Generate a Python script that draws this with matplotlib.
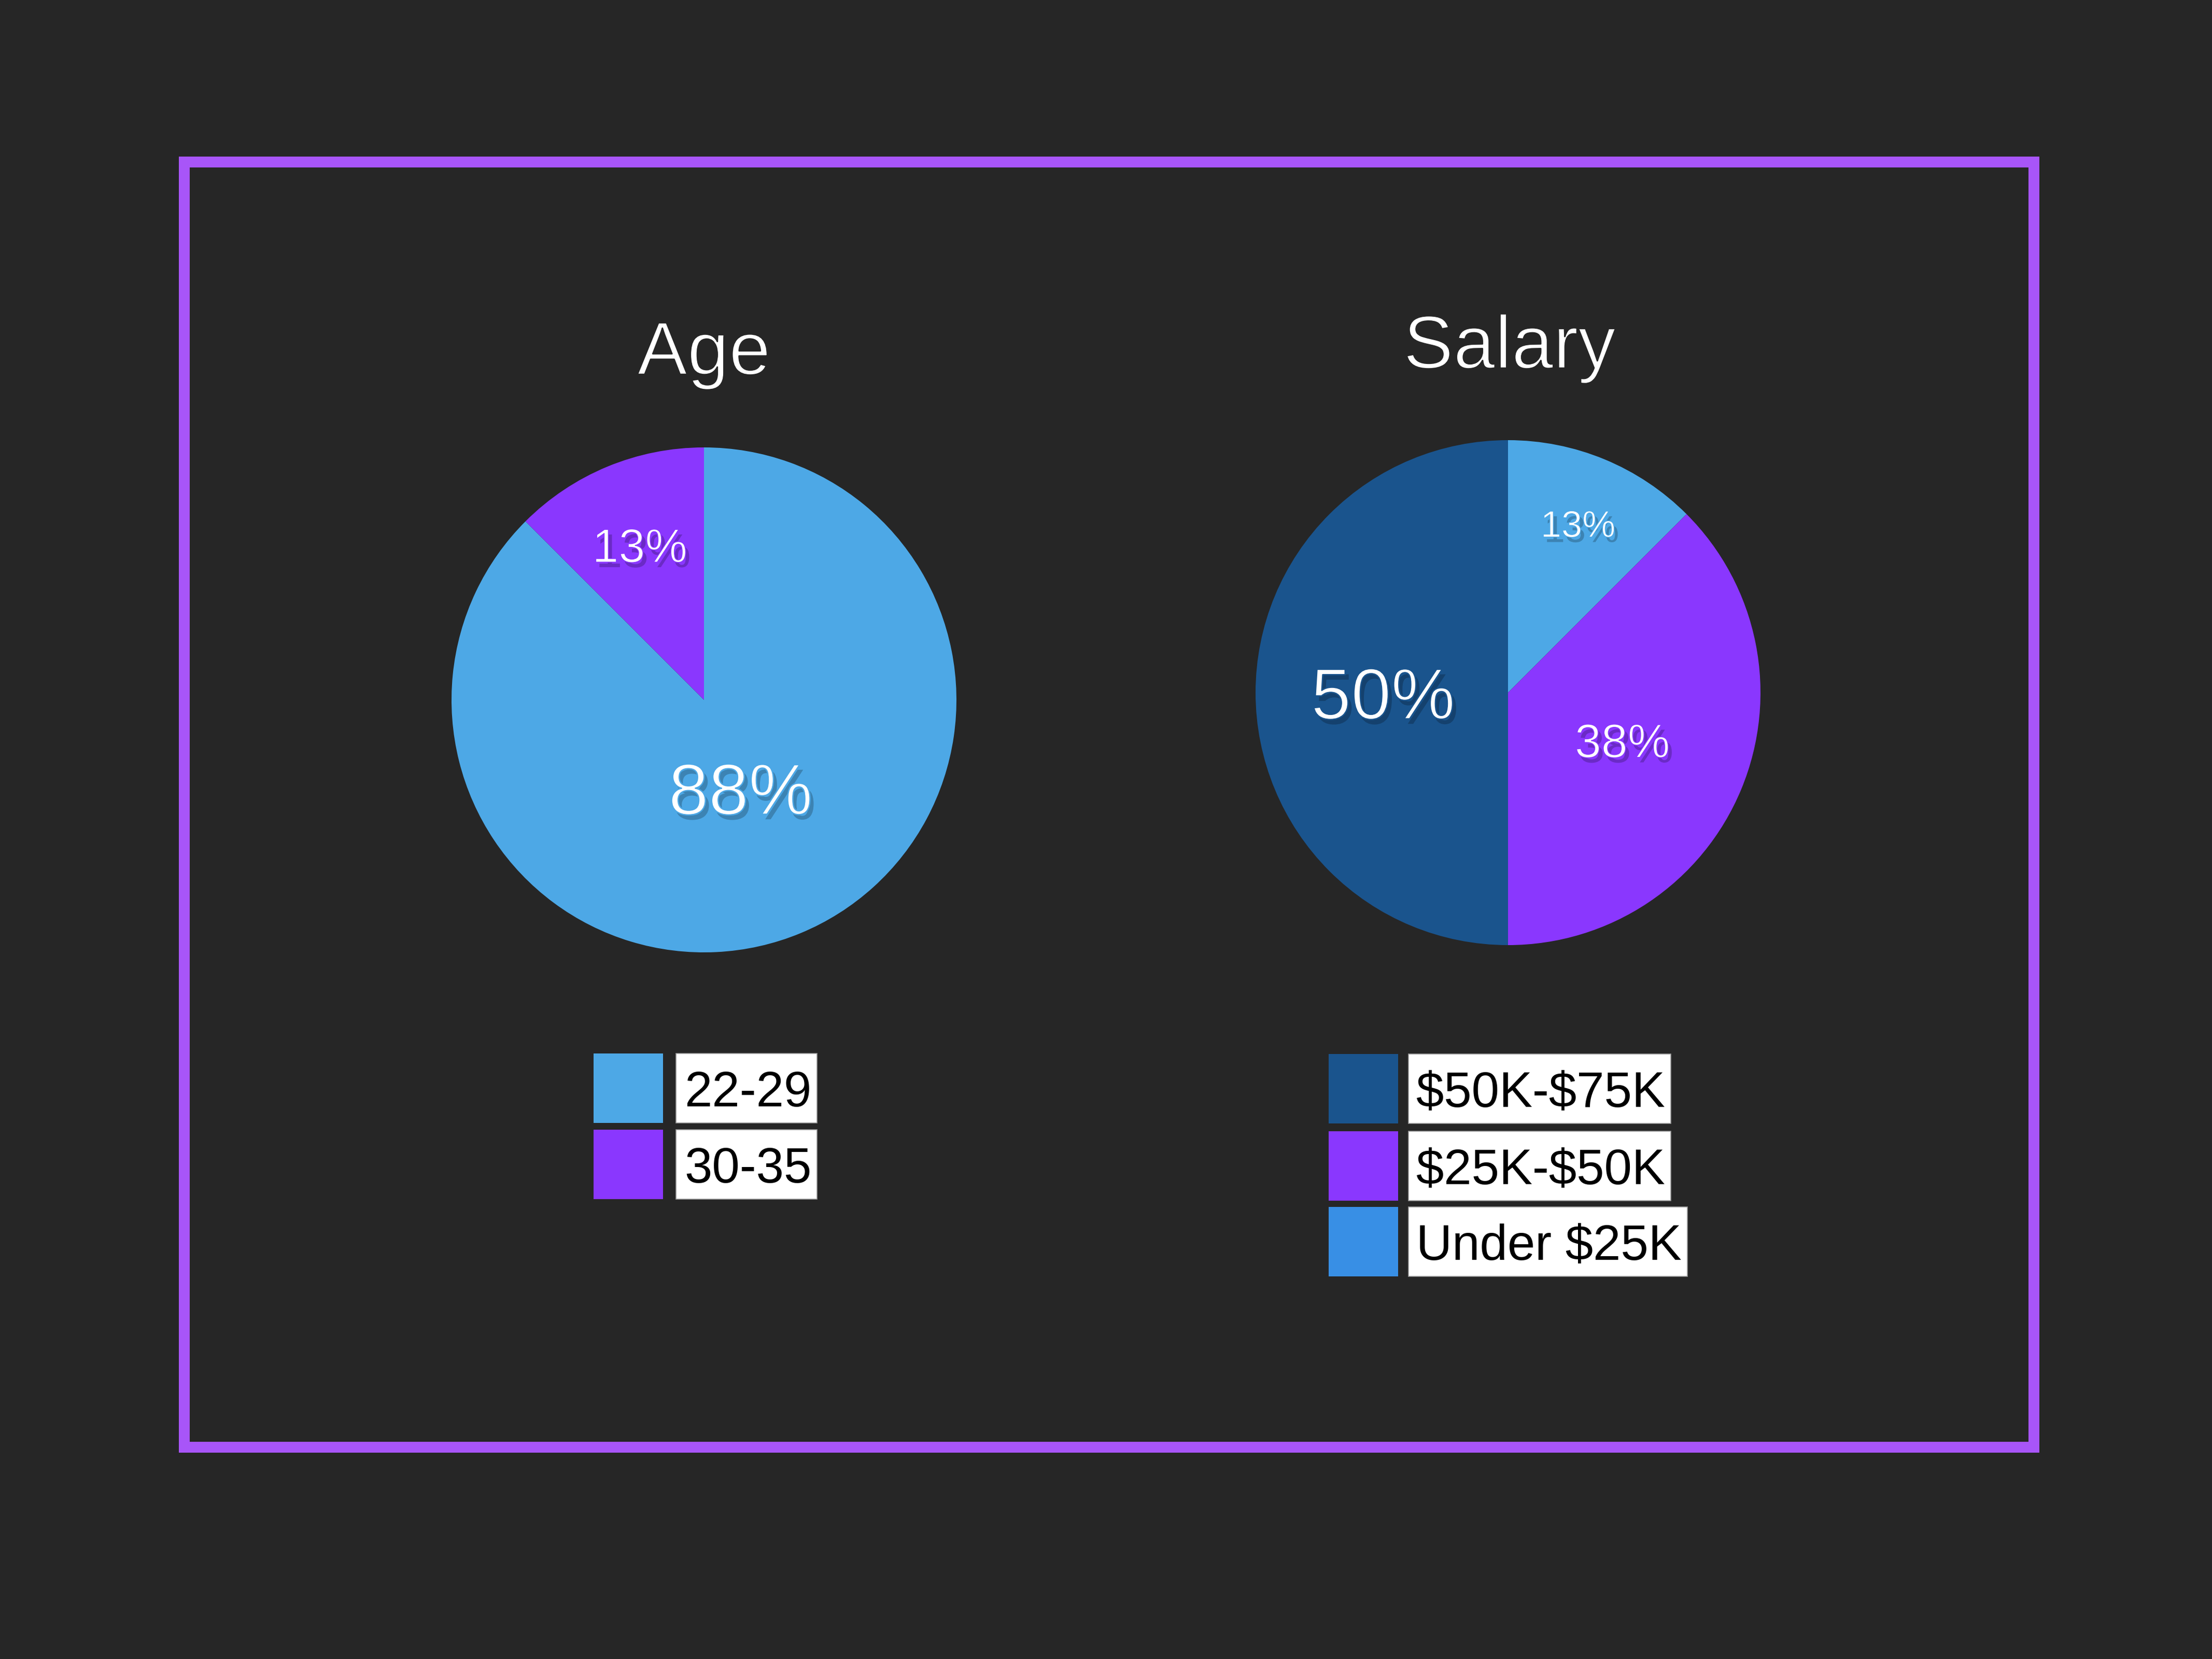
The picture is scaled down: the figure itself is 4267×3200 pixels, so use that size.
import math
import matplotlib
matplotlib.use("Agg")
import matplotlib.pyplot as plt
import matplotlib.patheffects as pe
from matplotlib.patches import Rectangle

plt.rcParams["text.parse_math"] = False

# ---------------- data ----------------
age_title = "Age"
age_labels = ["22-29", "30-35"]
age_values = [87.5, 12.5]

salary_title = "Salary"
salary_labels = ["Under $25K", "$25K-$50K", "$50K-$75K"]
salary_values = [12.5, 37.5, 50.0]
salary_legend_order = ["$50K-$75K", "$25K-$50K", "Under $25K"]

# ---------------- style ----------------
W, H = 4267, 3200
DPI = 200
BG = "#262626"
FRAME = "#A855F8"
LIGHT_BLUE = "#4DA8E6"
PURPLE = "#8A37FE"
DARK_BLUE = "#1A548D"
LEGEND_BLUE = "#388FE5"
FONT = ["Liberation Sans", "DejaVu Sans"]

age_colors = [LIGHT_BLUE, PURPLE]
salary_colors = [LIGHT_BLUE, PURPLE, DARK_BLUE]
salary_legend_colors = {"$50K-$75K": DARK_BLUE, "$25K-$50K": PURPLE, "Under $25K": LEGEND_BLUE}

fig = plt.figure(figsize=(W / DPI, H / DPI), dpi=DPI, facecolor=BG)
ax = fig.add_axes([0, 0, 1, 1])
ax.set_facecolor(BG)
ax.set_xlim(0, W)
ax.set_ylim(0, H)
ax.axis("off")


def Y(y):  # image-style y (top down) -> axes y
    return H - y


def light_effects(size, under_color, with_shadow=True):
    """Slightly thin the glyph strokes by outlining them in the colour underneath."""
    effects = []
    if with_shadow:
        effects.append(pe.SimplePatchShadow(offset=(2.5, -3.5), shadow_rgbFace="black", alpha=0.22))
    effects.append(pe.Normal())
    effects.append(pe.Stroke(linewidth=size * 0.018, foreground=under_color))
    return effects


# frame
ax.add_patch(Rectangle((354.5, Y(2791)), 3922.5 - 354.5, 2791 - 311.5,
                       fill=False, edgecolor=FRAME, linewidth=21 * 72 / DPI,
                       joinstyle="miter", zorder=2))


def fmt_pct(v):
    return f"{int(math.floor(v + 0.5))}%"


def draw_pie(cx, cy, r, values, colors, label_specs):
    ax.pie(values, colors=colors, startangle=90, counterclock=False,
           center=(cx, Y(cy)), radius=r, frame=True,
           wedgeprops=dict(linewidth=0))
    total = sum(values)
    start = 90.0
    for v, col, (dist, size) in zip(values, colors, label_specs):
        span = 360.0 * v / total
        mid = math.radians(start - span / 2)
        start -= span
        x = cx + dist * r * math.cos(mid)
        y = Y(cy) + dist * r * math.sin(mid)
        ax.text(x, y, fmt_pct(v), color="white", fontsize=size, family=FONT,
                ha="center", va="center_baseline",
                path_effects=light_effects(size, col), zorder=5)


draw_pie(1358, 1350, 487, age_values, age_colors, [(0.378, 50), (0.665, 33)])
draw_pie(2909, 1336, 487, salary_values, salary_colors, [(0.725, 26), (0.49, 33), (0.495, 50)])

# restore axes setup after pie()
ax.set_xlim(0, W)
ax.set_ylim(0, H)
ax.set_aspect("auto")
ax.axis("off")

# titles
ax.text(1358, Y(722), age_title, color="white", fontsize=52, family=FONT,
        ha="center", va="baseline", path_effects=light_effects(52, BG, False))
ax.text(2912, Y(710), salary_title, color="white", fontsize=52, family=FONT,
        ha="center", va="baseline", path_effects=light_effects(52, BG, False))

# legends
fig.canvas.draw()
renderer = fig.canvas.get_renderer()


def legend(patch_x, text_x, box_x, row_tops, labels, colors, size=34.5):
    for top, lab, col in zip(row_tops, labels, colors):
        h = 134
        ax.add_patch(Rectangle((patch_x, Y(top + h)), 134, h, facecolor=col,
                               edgecolor="none", zorder=3))
        cap = 0.729 * size * DPI / 72
        t = ax.text(text_x, Y(top + h / 2) - cap / 2, lab, color="black",
                    fontsize=size, family=FONT, ha="left", va="baseline", zorder=5)
        bb = t.get_window_extent(renderer)
        right = bb.x1 + 11
        ax.add_patch(Rectangle((box_x, Y(top + h)), right - box_x, h,
                               facecolor="white", edgecolor="#9a9a9a",
                               linewidth=0.6, zorder=4))


legend(1145, 1320, 1304, [2032, 2179], age_labels, age_colors)
legend(2563, 2732, 2717, [2033, 2182, 2328], salary_legend_order,
       [salary_legend_colors[k] for k in salary_legend_order])

fig.savefig("out.png", dpi=DPI, facecolor=BG)
